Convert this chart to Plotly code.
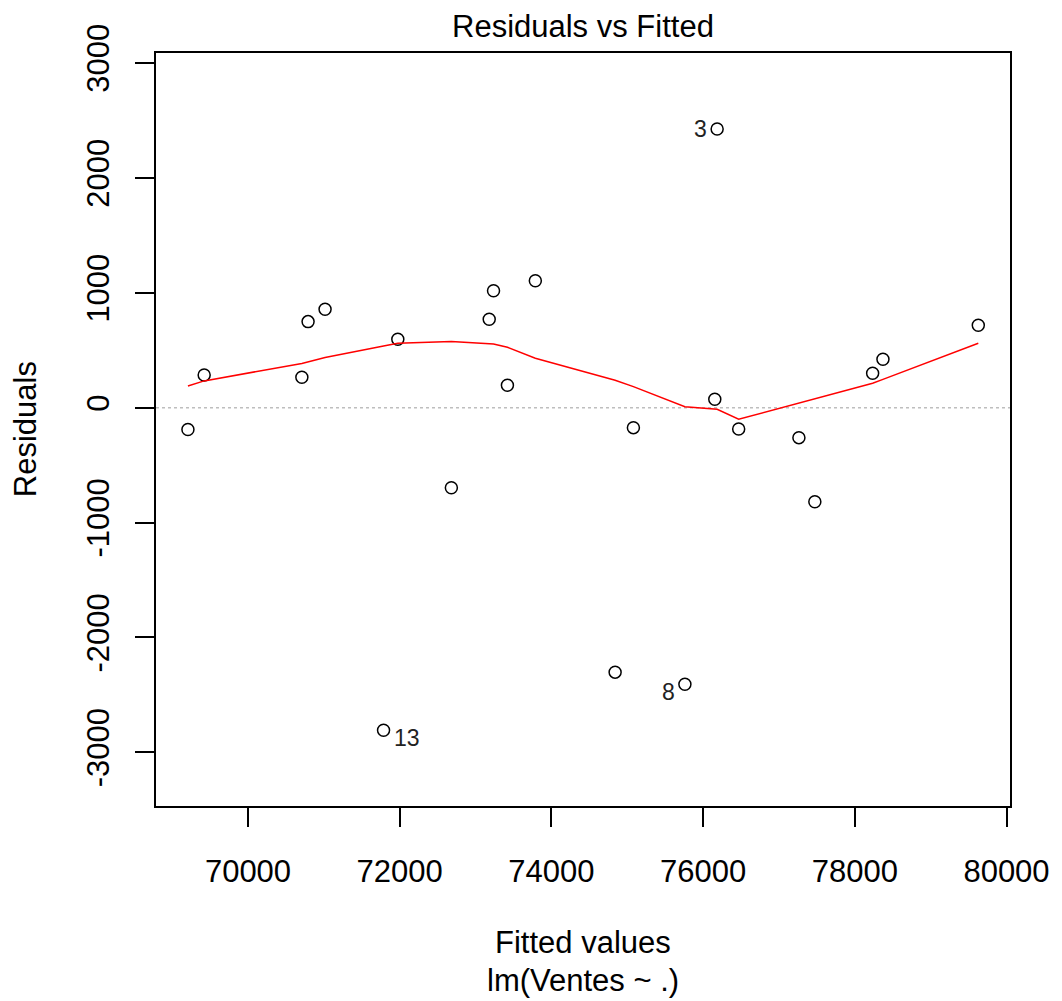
import plotly.graph_objects as go

# Fitted values and residuals of lm(Ventes ~ .), sorted by fitted value
fitted = [69208, 69422, 70710, 70792, 71016, 71787, 71975, 72681, 73180, 73237,
          73420, 73788, 74840, 75081, 75760, 76154, 76185, 76469, 77263, 77473,
          78235, 78371, 79628]
resid = [-190, 285, 265, 749, 857, -2807, 596, -697, 770, 1017,
         195, 1104, -2302, -174, -2407, 73, 2425, -186, -261, -819,
         300, 422, 718]
# Observation numbers shown next to the three largest residuals
point_ids = ["", "", "", "", "", "13", "", "", "", "",
             "", "", "", "", "8", "", "3", "", "", "",
             "", "", ""]
# Smoothed trend evaluated at each fitted value
smooth = [189, 233, 385, 398, 437, 537, 561, 575, 561, 555,
          526, 430, 238, 183, 9, -11, -14, -101, 39, 77,
          213, 246, 561]

x_ticks = [70000, 72000, 74000, 76000, 78000, 80000]
y_ticks = [-3000, -2000, -1000, 0, 1000, 2000, 3000]

FONT = "Arial, Liberation Sans, sans-serif"

fig = go.Figure()

fig.add_trace(go.Scatter(
    x=fitted, y=resid, mode="markers",
    marker=dict(symbol="circle-open", size=12, color="black",
                line=dict(width=1.5, color="black")),
    hoverinfo="x+y", showlegend=False,
))

fig.add_trace(go.Scatter(
    x=fitted, y=smooth, mode="lines",
    line=dict(color="red", width=1.5),
    hoverinfo="skip", showlegend=False,
))

# Horizontal reference at zero residual
fig.add_shape(type="line", xref="paper", x0=0, x1=1, yref="y", y0=0, y1=0,
              line=dict(color="#bebebe", width=1.5, dash="dot"), layer="below")

# Labels for the flagged observations (left of the point when on the right half)
x_mid = (fitted[0] + fitted[-1]) / 2
for fx, ry, lab in zip(fitted, resid, point_ids):
    if not lab:
        continue
    left = fx > x_mid
    fig.add_annotation(
        x=fx, y=ry, text=lab, showarrow=False,
        xanchor="right" if left else "left",
        xshift=-8 if left else 8, yshift=-8 if ry < 0 else 0,
        font=dict(family=FONT, size=23, color="#222222"),
    )

fig.add_annotation(text="Residuals vs Fitted", xref="paper", yref="paper",
                   x=0.5, y=(805.7 - 27) / 752.4, yanchor="middle",
                   showarrow=False, font=dict(family=FONT, size=31, color="black"))
fig.add_annotation(text="Fitted values", xref="paper", yref="paper",
                   x=0.5, y=(805.7 - 942) / 752.4, yanchor="middle",
                   showarrow=False, font=dict(family=FONT, size=31, color="black"))
fig.add_annotation(text="lm(Ventes ~ .)", xref="paper", yref="paper",
                   x=0.5, y=(805.7 - 980) / 752.4, yanchor="middle",
                   showarrow=False, font=dict(family=FONT, size=31, color="black"))
fig.add_annotation(text="Residuals", xref="paper", yref="paper",
                   x=(25 - 155.7) / 856.8, y=0.5, xanchor="center", yanchor="middle",
                   textangle=-90, showarrow=False,
                   font=dict(family=FONT, size=31, color="black"))

axis_common = dict(
    showgrid=False, zeroline=False, showline=True, mirror=True,
    linecolor="black", linewidth=1.5,
    ticks="outside", ticklen=19, tickwidth=1.5, tickcolor="black",
    tickfont=dict(family=FONT, size=31, color="black"),
)

fig.update_layout(
    width=1062, height=1001,
    margin=dict(l=156, r=50, t=53, b=195),
    paper_bgcolor="white", plot_bgcolor="white",
    xaxis=dict(range=[68787, 80046], tickvals=x_ticks,
               ticktext=[str(v) for v in x_ticks], ticklabelstandoff=18,
               **axis_common),
    yaxis=dict(range=[-3467, 3087], tickvals=y_ticks,
               ticktext=[str(v) for v in y_ticks], tickangle=-90,
               ticklabelstandoff=14, **axis_common),
    showlegend=False,
)

fig.write_html("out.html")
